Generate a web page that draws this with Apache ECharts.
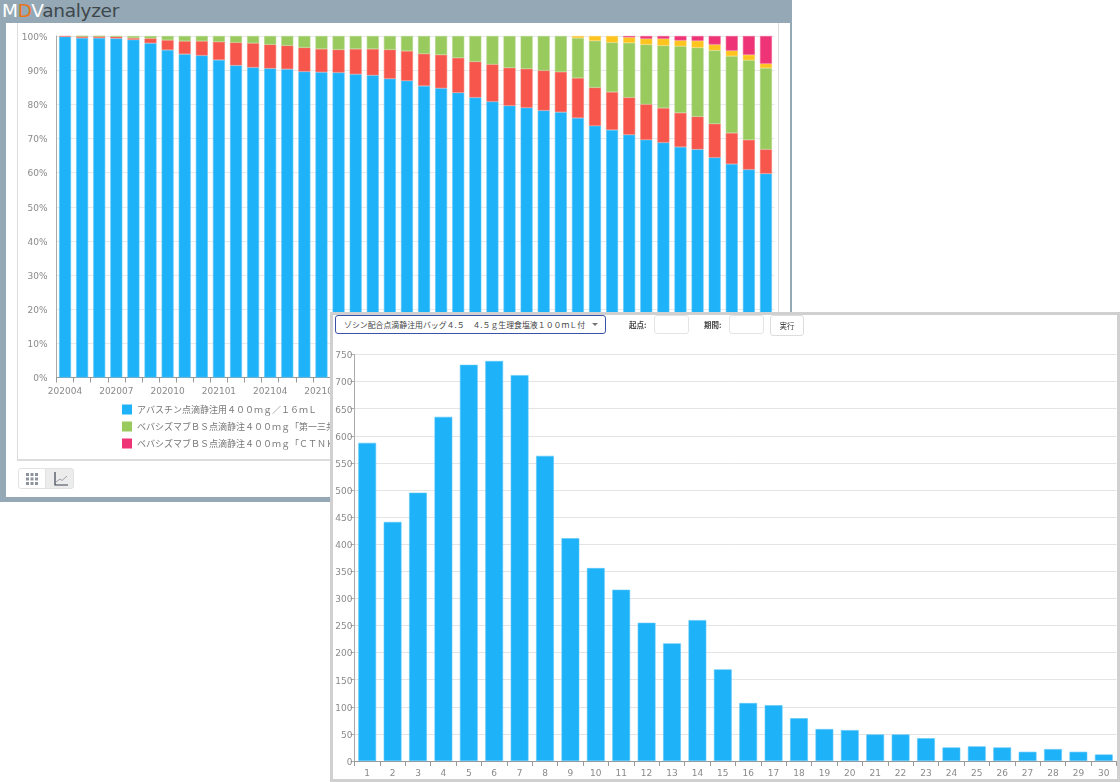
<!DOCTYPE html>
<html>
<head>
<meta charset="utf-8">
<script src="https://cdn.jsdelivr.net/npm/echarts@6/dist/echarts.min.js"></script>
<style>
html,body{margin:0;padding:0;background:#fff;overflow:hidden;width:1120px;height:782px;}
body,select,button{font-family:"DejaVu Sans",sans-serif;}
#main{position:absolute;left:0;top:0;width:792px;height:502px;background:#94a9b5;}
#logo{position:absolute;left:2px;top:-2px;font:18.5px/26px "DejaVu Sans",sans-serif;color:#fff;letter-spacing:-.3px;}
#logo .d{color:#e8741a;}
#logo .a{color:#3f474c;}
#inner{position:absolute;left:6px;top:23px;width:784px;height:474px;background:#fff;}
#box{position:absolute;left:17px;top:23px;width:760px;height:436px;border:solid #dcdcdc;border-width:0 1px 2px 1px;}
#chart1{position:absolute;left:0;top:0;width:792px;height:502px;}
.tog{position:absolute;top:468px;height:21px;border:1px solid #e2e2e2;box-sizing:border-box;}
#panel{position:absolute;left:330px;top:312px;width:790px;height:470px;background:#fff;border:3px solid #d0d0d0;box-sizing:border-box;}
#chart2{position:absolute;left:330px;top:312px;width:790px;height:470px;}
#sel{position:absolute;left:335px;top:315px;width:271px;height:19px;border:1px solid #3c51a8;border-radius:3px;box-sizing:border-box;background:#fff;font:7.9px/17px "Noto Sans CJK JP",sans-serif;color:#444;padding-left:8px;white-space:pre;}
#sel i{position:absolute;left:256px;top:7px;border:3.5px solid transparent;border-top:3.5px solid #777;border-bottom:0;}
.lab{position:absolute;top:319px;font:bold 7.5px/12px "Noto Sans CJK JP",sans-serif;color:#444;}
.inp{position:absolute;top:315px;width:35px;height:19px;border:1px solid #e4e4e4;border-radius:3px;box-sizing:border-box;background:#fff;}
#run{position:absolute;left:770px;top:315px;width:34px;height:21px;border:1px solid #ddd;border-radius:3px;box-sizing:border-box;background:#fff;font:7.5px/19px "Noto Sans CJK JP",sans-serif;color:#444;text-align:center;}
</style>
</head>
<body>
<div id="main">
  <div id="logo">M<span class="d">D</span>V<span class="a">analyzer</span></div>
  <div id="inner"></div>
  <div id="box"></div>
  <div id="chart1"></div>
  <div class="tog" style="left:18px;width:28px;border-radius:3px 0 0 3px;background:#fff;">
    <svg width="26" height="19"><g fill="#8d939b"><rect x="7" y="4" width="3" height="3"/><rect x="11.5" y="4" width="3" height="3"/><rect x="16" y="4" width="3" height="3"/><rect x="7" y="8.5" width="3" height="3"/><rect x="11.5" y="8.5" width="3" height="3"/><rect x="16" y="8.5" width="3" height="3"/><rect x="7" y="13" width="3" height="3"/><rect x="11.5" y="13" width="3" height="3"/><rect x="16" y="13" width="3" height="3"/></g></svg>
  </div>
  <div class="tog" style="left:45px;width:29px;border-radius:0 3px 3px 0;background:#ececec;">
    <svg width="27" height="19"><path d="M9 3V16H22" fill="none" stroke="#3b4450" stroke-width="1.2"/><path d="M10 13L14 10L16 11.5L21 7" fill="none" stroke="#9aa0a8" stroke-width="1"/></svg>
  </div>
</div>
<div id="panel"></div>
<div id="chart2"></div>
<div id="sel">ゾシン配合点滴静注用バッグ４.５　４.５ｇ生理食塩液１００ｍＬ付<i></i></div>
<div class="lab" style="left:629px;">起点:</div>
<div class="inp" style="left:654px;"></div>
<div class="lab" style="left:704px;">期間:</div>
<div class="inp" style="left:729px;"></div>
<div id="run">実行</div>
<script>
var months = ['202004','202005','202006','202007','202008','202009','202010','202011','202012','202101','202102','202103','202104','202105','202106','202107','202108','202109','202110','202111','202112','202201','202202','202203','202204','202205','202206','202207','202208','202209','202210','202211','202212','202301','202302','202303','202304','202305','202306','202307','202308','202309'];
var avastin = [99.8,99.4,99.4,99.3,98.9,97.9,95.9,94.7,94.3,93.0,91.4,90.8,90.5,90.3,89.6,89.4,89.3,88.8,88.5,87.5,86.9,85.4,84.7,83.4,82.0,80.8,79.6,79.0,78.2,77.7,76.0,73.7,72.5,71.1,69.6,68.8,67.5,66.8,64.4,62.5,60.9,59.7];
var redShare = [0.2,0.5,0.5,0.5,0.5,1.4,2.9,3.8,4.2,5.3,6.7,7.1,7.0,6.9,7.0,6.8,6.7,7.4,7.7,8.5,8.7,9.4,9.8,10.2,10.5,10.9,11.1,11.4,11.7,11.8,11.7,11.2,11.1,10.9,10.4,10.1,10.0,9.6,9.9,9.1,8.7,7.1];
var daiichi = [null,0.1,0.1,0.2,0.6,0.7,1.2,1.5,1.5,1.7,1.9,2.1,2.5,2.8,3.4,3.8,4.0,3.8,3.8,4.0,4.4,5.2,5.5,6.4,7.5,8.3,9.3,9.6,10.1,10.5,11.7,13.7,14.5,16.0,17.5,18.3,19.5,20.2,21.5,22.5,23.3,23.8];
var orangeShare = [null,null,null,null,null,null,null,null,null,null,null,null,null,null,null,null,null,null,null,null,null,null,null,null,null,null,null,null,null,null,0.6,1.4,1.9,1.6,1.7,2.0,1.7,2.0,1.7,1.6,1.6,1.3];
var ctnk = [null,null,null,null,null,null,null,null,null,null,null,null,null,null,null,null,null,null,null,null,null,null,null,null,null,null,null,null,null,null,null,null,null,0.4,0.8,0.8,1.3,1.4,2.5,4.3,5.5,8.1];
var days = ['1','2','3','4','5','6','7','8','9','10','11','12','13','14','15','16','17','18','19','20','21','22','23','24','25','26','27','28','29','30'];
var counts = [587,441,495,635,731,738,712,563,411,356,316,255,217,260,169,107,103,79,59,57,49,49,42,25,27,25,17,22,17,12];

var nameAvastin = 'アバスチン点滴静注用４００ｍｇ／１６ｍＬ';
var nameDaiichi = 'ベバシズマブＢＳ点滴静注４００ｍｇ「第一三共」';
var nameCtnk = 'ベバシズマブＢＳ点滴静注４００ｍｇ「ＣＴＮＫ」';
var labelColor = '#8a8a8a';
var tickRich = {t: {color: labelColor, fontSize: 9, fontFamily: 'DejaVu Sans', padding: [3, 0, 0, 0]}};

function stack(name, data, color, border) {
  return {
    name: name, type: 'bar', stack: 'share', data: data, barWidth: '70%',
    itemStyle: {color: color, borderColor: border, borderWidth: 0.6}
  };
}

var chart1 = echarts.init(document.getElementById('chart1'));
chart1.setOption({
  animation: false,
  grid: {left: 56.5, top: 36, width: 718, height: 341.5},
  legend: {
    left: 122, top: 404.5, padding: 0, orient: 'vertical', icon: 'rect',
    itemWidth: 10, itemHeight: 10, itemGap: 7, itemStyle: {borderWidth: 0},
    data: [nameAvastin, nameDaiichi, nameCtnk],
    textStyle: {fontFamily: 'Noto Sans CJK JP', fontSize: 9, lineHeight: 10, color: '#777'}
  },
  xAxis: {
    type: 'category', data: months,
    axisLine: {lineStyle: {color: '#999'}},
    axisTick: {show: true, interval: 0, length: 5, lineStyle: {color: '#999'}},
    axisLabel: {interval: 2, color: labelColor, fontSize: 9, fontFamily: 'DejaVu Sans', margin: 10}
  },
  yAxis: {
    type: 'value', min: 0, max: 100, interval: 10,
    axisLine: {show: true, lineStyle: {color: '#aaa'}},
    axisTick: {show: false},
    axisLabel: {formatter: '{t|{value}%}', rich: tickRich, margin: 9},
    splitLine: {lineStyle: {color: '#e8e8e8'}}
  },
  series: [
    stack(nameAvastin, avastin, '#1eb2f8', '#5cc8f8'),
    stack('赤', redShare, '#f6564b', '#f6786e'),
    stack(nameDaiichi, daiichi, '#99ca5e', '#aed583'),
    stack('橙', orangeShare, '#fdc41e', '#fdd050'),
    stack(nameCtnk, ctnk, '#ee3377', '#f0608f')
  ]
});

var chart2 = echarts.init(document.getElementById('chart2'));
chart2.setOption({
  animation: false,
  grid: {left: 24.5, top: 42.5, width: 762, height: 406.5},
  xAxis: {
    type: 'category', data: days,
    axisLine: {lineStyle: {color: '#999'}},
    axisTick: {show: true, interval: 0, length: 5, lineStyle: {color: '#999'}},
    axisLabel: {interval: 0, color: labelColor, fontSize: 9, fontFamily: 'DejaVu Sans', margin: 8}
  },
  yAxis: {
    type: 'value', min: 0, max: 750, interval: 50,
    axisLine: {show: true, lineStyle: {color: '#aaa'}},
    axisTick: {show: true, length: 4, lineStyle: {color: '#aaa'}},
    axisLabel: {formatter: '{t|{value}}', rich: tickRich, margin: 2},
    splitLine: {lineStyle: {color: '#e4e4e4'}}
  },
  series: [{
    name: '件数', type: 'bar', data: counts, barWidth: '70%',
    itemStyle: {color: '#1eb2f8', borderColor: '#5cc8f8', borderWidth: 0.6}
  }]
});
</script>
</body>
</html>
